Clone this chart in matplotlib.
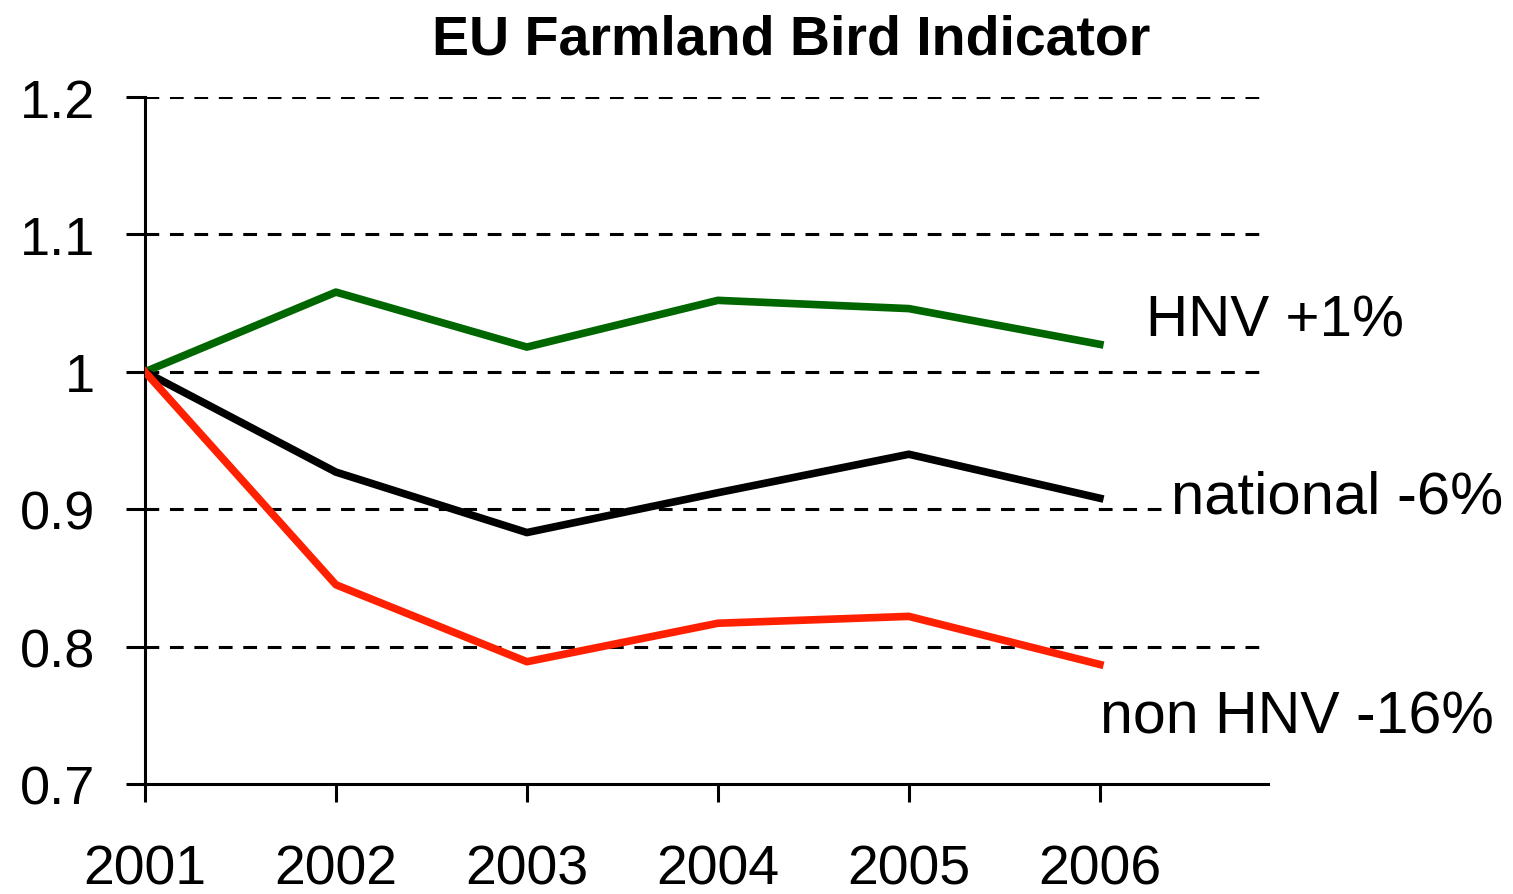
import matplotlib
matplotlib.use("Agg")
import matplotlib.pyplot as plt
from matplotlib.ticker import FixedLocator, FixedFormatter

plt.rcParams['font.family'] = ['Liberation Sans', 'DejaVu Sans']

years = [2001, 2002, 2003, 2004, 2005, 2006]
hnv = [1.0, 1.058, 1.018, 1.052, 1.046, 1.020]
national = [1.0, 0.927, 0.883, 0.912, 0.940, 0.908]
non_hnv = [1.0, 0.845, 0.789, 0.817, 0.822, 0.787]

yticks = [0.7, 0.8, 0.9, 1.0, 1.1, 1.2]
ytick_labels = ["0.7", "0.8", "0.9", "1", "1.1", "1.2"]

fig = plt.figure(figsize=(15.13, 8.95), dpi=100)
ax = fig.add_axes([0.0958, 0.1229, 0.7422, 0.7676])

# dashed grid lines (not at the bottom, that's the axis)
for y in yticks[1:]:
    ax.axhline(y, color="black", lw=2.2, ls=(0, (4.5, 3.5)), zorder=1)

ax.plot(years, hnv, color="#006600", lw=5.5, zorder=3)
ax.plot(years, national, color="black", lw=5.5, zorder=3)
ax.plot(years, non_hnv, color="#ff2000", lw=5.5, zorder=3)

ax.set_xlim(2001, 2006.88)
ax.set_ylim(0.7, 1.2)

ax.spines['top'].set_visible(False)
ax.spines['right'].set_visible(False)
ax.spines['left'].set_linewidth(2.2)
ax.spines['bottom'].set_linewidth(2.2)

ax.set_xticks(years)
ax.set_xticklabels([str(y) for y in years])
ax.yaxis.set_major_locator(FixedLocator(yticks))
ax.yaxis.set_major_formatter(FixedFormatter(ytick_labels))
ax.tick_params(axis='y', direction='out', length=14, width=2.2, pad=22, labelsize=39)
ax.tick_params(axis='x', direction='out', length=13, width=2.2, pad=30, labelsize=40)

ax.text(2006.24, 1.037, "HNV +1%", fontsize=42, va="center", ha="left")
ax.text(2006.375, 0.909, "national -6%", fontsize=43, va="center", ha="left",
        bbox=dict(facecolor="white", edgecolor="none", pad=2), zorder=5)
ax.text(2006.0, 0.749, "non HNV -16%", fontsize=42.5, va="center", ha="left")

fig.text(0.5228, 0.955, "EU Farmland Bird Indicator", fontsize=40,
         fontweight="bold", ha="center", va="center")

fig.savefig("out.png", dpi=100)
